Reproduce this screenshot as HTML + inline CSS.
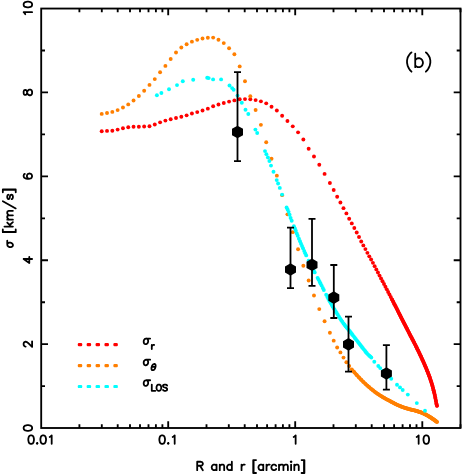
<!DOCTYPE html>
<html><head><meta charset="utf-8"><title>plot</title>
<style>
html,body{margin:0;padding:0;background:#fff;}
body{width:463px;height:475px;position:relative;overflow:hidden;font-family:"Liberation Sans",sans-serif;}
</style></head><body>
<svg width="463" height="475" viewBox="0 0 463 475" style="position:absolute;left:0;top:0;will-change:transform">
<rect x="0" y="0" width="463" height="475" fill="#fff"/>
<polyline points="392.00,299.42 392.40,300.19 392.80,300.97 393.19,301.75 393.59,302.53 393.99,303.31 394.39,304.09 394.79,304.87 395.18,305.65 395.58,306.43 395.98,307.22 396.38,308.00 396.78,308.79 397.17,309.58 397.57,310.36 397.97,311.15 398.37,311.94 398.77,312.73 399.17,313.51 399.56,314.30 399.96,315.09 400.36,315.88 400.76,316.66 401.16,317.44 401.55,318.23 401.95,319.01 402.35,319.79 402.75,320.57 403.15,321.35 403.54,322.12 403.94,322.90 404.34,323.67 404.74,324.45 405.14,325.22 405.53,326.00 405.93,326.77 406.33,327.54 406.73,328.32 407.13,329.09 407.52,329.86 407.92,330.63 408.32,331.41 408.72,332.18 409.12,332.95 409.51,333.73 409.91,334.50 410.31,335.27 410.71,336.04 411.11,336.80 411.51,337.57 411.90,338.33 412.30,339.09 412.70,339.85 413.10,340.62 413.50,341.38 413.89,342.15 414.29,342.92 414.69,343.70 415.09,344.48 415.49,345.26 415.88,346.05 416.28,346.85 416.68,347.65 417.08,348.46 417.48,349.28 417.87,350.09 418.27,350.91 418.67,351.72 419.07,352.55 419.47,353.37 419.86,354.20 420.26,355.04 420.66,355.88 421.06,356.73 421.46,357.58 421.86,358.45 422.25,359.32 422.65,360.19 423.05,361.08 423.45,361.98 423.85,362.88 424.24,363.80 424.64,364.72 425.04,365.64 425.44,366.57 425.84,367.50 426.23,368.44 426.63,369.39 427.03,370.36 427.43,371.34 427.83,372.34 428.22,373.36 428.62,374.40 429.02,375.46 429.42,376.56 429.82,377.68 430.21,378.84 430.61,380.02 431.01,381.23 431.41,382.48 431.81,383.77 432.20,385.10 432.60,386.48 433.00,387.92 433.40,389.42 433.80,390.98 434.20,392.61 434.59,394.37 434.99,396.23 435.39,398.20 435.79,400.25 436.19,402.38 436.58,404.58 436.98,405.80" fill="none" stroke="#ff0000" stroke-width="3.55" stroke-linecap="round" stroke-linejoin="round"/>
<g fill="#ff0000"><circle cx="101.72" cy="131.20" r="1.95"/><circle cx="107.03" cy="130.89" r="1.95"/><circle cx="112.33" cy="130.70" r="1.95"/><circle cx="117.64" cy="129.61" r="1.95"/><circle cx="122.95" cy="128.29" r="1.95"/><circle cx="128.25" cy="127.32" r="1.95"/><circle cx="133.56" cy="126.80" r="1.95"/><circle cx="138.86" cy="126.80" r="1.95"/><circle cx="144.17" cy="126.49" r="1.95"/><circle cx="149.48" cy="126.29" r="1.95"/><circle cx="154.78" cy="124.51" r="1.95"/><circle cx="160.09" cy="122.37" r="1.95"/><circle cx="165.40" cy="120.60" r="1.95"/><circle cx="170.70" cy="119.27" r="1.95"/><circle cx="176.01" cy="117.95" r="1.95"/><circle cx="181.32" cy="116.82" r="1.95"/><circle cx="186.62" cy="115.33" r="1.95"/><circle cx="191.93" cy="113.50" r="1.95"/><circle cx="197.24" cy="112.08" r="1.95"/><circle cx="202.54" cy="110.49" r="1.95"/><circle cx="207.85" cy="108.64" r="1.95"/><circle cx="213.15" cy="106.28" r="1.95"/><circle cx="218.46" cy="104.51" r="1.95"/><circle cx="223.77" cy="102.96" r="1.95"/><circle cx="229.07" cy="101.61" r="1.95"/><circle cx="234.38" cy="100.38" r="1.95"/><circle cx="239.69" cy="99.31" r="1.95"/><circle cx="244.99" cy="99.10" r="1.95"/><circle cx="250.30" cy="99.31" r="1.95"/><circle cx="255.61" cy="100.10" r="1.95"/><circle cx="260.91" cy="101.37" r="1.95"/><circle cx="266.22" cy="103.37" r="1.95"/><circle cx="271.52" cy="106.75" r="1.95"/><circle cx="276.83" cy="110.48" r="1.95"/><circle cx="282.14" cy="115.74" r="1.95"/><circle cx="287.44" cy="121.04" r="1.95"/><circle cx="292.75" cy="126.35" r="1.95"/><circle cx="298.06" cy="132.37" r="1.95"/><circle cx="303.36" cy="139.44" r="1.95"/><circle cx="308.67" cy="148.77" r="1.95"/><circle cx="313.98" cy="156.46" r="1.95"/><circle cx="319.28" cy="164.73" r="1.95"/><circle cx="324.59" cy="173.88" r="1.95"/><circle cx="329.90" cy="183.07" r="1.95"/><circle cx="333.70" cy="190.00" r="1.95"/><circle cx="337.16" cy="196.68" r="1.95"/><circle cx="340.42" cy="202.49" r="1.95"/><circle cx="343.49" cy="208.15" r="1.95"/><circle cx="346.40" cy="213.39" r="1.95"/><circle cx="349.17" cy="218.71" r="1.95"/><circle cx="351.80" cy="223.41" r="1.95"/><circle cx="354.32" cy="228.05" r="1.95"/><circle cx="356.72" cy="232.55" r="1.95"/><circle cx="359.03" cy="237.05" r="1.95"/><circle cx="361.24" cy="241.46" r="1.95"/><circle cx="363.36" cy="245.40" r="1.95"/><circle cx="365.41" cy="249.11" r="1.95"/><circle cx="367.39" cy="252.86" r="1.95"/><circle cx="369.29" cy="256.36" r="1.95"/><circle cx="371.13" cy="259.56" r="1.95"/><circle cx="372.92" cy="262.86" r="1.95"/><circle cx="374.64" cy="266.16" r="1.95"/><circle cx="376.32" cy="269.42" r="1.95"/><circle cx="377.94" cy="272.57" r="1.95"/><circle cx="379.52" cy="275.59" r="1.95"/><circle cx="381.06" cy="278.49" r="1.95"/><circle cx="382.55" cy="281.31" r="1.95"/><circle cx="384.00" cy="284.05" r="1.95"/><circle cx="385.42" cy="286.73" r="1.95"/><circle cx="386.80" cy="289.35" r="1.95"/><circle cx="388.15" cy="291.94" r="1.95"/><circle cx="389.46" cy="294.48" r="1.95"/><circle cx="390.75" cy="296.98" r="1.95"/><circle cx="392.00" cy="299.42" r="1.95"/><circle cx="393.23" cy="301.82" r="1.95"/><circle cx="394.43" cy="304.17" r="1.95"/><circle cx="395.61" cy="306.48" r="1.95"/><circle cx="396.76" cy="308.75" r="1.95"/><circle cx="397.88" cy="310.98" r="1.95"/><circle cx="398.99" cy="313.17" r="1.95"/><circle cx="400.07" cy="315.31" r="1.95"/><circle cx="401.13" cy="317.40" r="1.95"/><circle cx="402.18" cy="319.45" r="1.95"/><circle cx="403.20" cy="321.45" r="1.95"/><circle cx="404.20" cy="323.41" r="1.95"/><circle cx="405.19" cy="325.32" r="1.95"/><circle cx="406.16" cy="327.21" r="1.95"/><circle cx="407.11" cy="329.05" r="1.95"/><circle cx="408.05" cy="330.87" r="1.95"/><circle cx="408.97" cy="332.66" r="1.95"/><circle cx="409.87" cy="334.42" r="1.95"/><circle cx="410.76" cy="336.14" r="1.95"/><circle cx="411.64" cy="337.82" r="1.95"/><circle cx="412.50" cy="339.47" r="1.95"/><circle cx="413.35" cy="341.10" r="1.95"/><circle cx="414.19" cy="342.72" r="1.95"/><circle cx="415.01" cy="344.33" r="1.95"/><circle cx="415.82" cy="345.93" r="1.95"/><circle cx="416.62" cy="347.54" r="1.95"/><circle cx="417.41" cy="349.14" r="1.95"/><circle cx="418.19" cy="350.73" r="1.95"/><circle cx="418.96" cy="352.31" r="1.95"/><circle cx="419.71" cy="353.88" r="1.95"/><circle cx="420.46" cy="355.45" r="1.95"/><circle cx="421.19" cy="357.02" r="1.95"/><circle cx="421.92" cy="358.59" r="1.95"/><circle cx="422.64" cy="360.16" r="1.95"/><circle cx="423.34" cy="361.74" r="1.95"/><circle cx="424.04" cy="363.34" r="1.95"/><circle cx="424.73" cy="364.93" r="1.95"/><circle cx="425.41" cy="366.52" r="1.95"/><circle cx="426.09" cy="368.10" r="1.95"/><circle cx="426.75" cy="369.69" r="1.95"/><circle cx="427.41" cy="371.29" r="1.95"/><circle cx="428.06" cy="372.93" r="1.95"/><circle cx="428.70" cy="374.61" r="1.95"/><circle cx="429.34" cy="376.33" r="1.95"/><circle cx="429.96" cy="378.10" r="1.95"/><circle cx="430.58" cy="379.93" r="1.95"/><circle cx="431.20" cy="381.81" r="1.95"/><circle cx="431.80" cy="383.76" r="1.95"/><circle cx="432.40" cy="385.78" r="1.95"/><circle cx="433.00" cy="387.90" r="1.95"/><circle cx="433.58" cy="390.13" r="1.95"/><circle cx="434.16" cy="392.49" r="1.95"/><circle cx="434.74" cy="395.04" r="1.95"/><circle cx="435.31" cy="397.79" r="1.95"/><circle cx="435.87" cy="400.70" r="1.95"/><circle cx="436.43" cy="403.72" r="1.95"/><circle cx="436.98" cy="405.80" r="1.95"/></g>
<polyline points="353.00,370.77 353.40,371.25 353.80,371.72 354.20,372.18 354.60,372.64 355.00,373.10 355.40,373.55 355.80,374.00 356.20,374.45 356.60,374.89 357.00,375.33 357.40,375.77 357.80,376.20 358.20,376.63 358.60,377.06 359.00,377.48 359.40,377.90 359.80,378.31 360.20,378.73 360.60,379.14 361.00,379.54 361.40,379.95 361.80,380.35 362.20,380.75 362.60,381.15 363.00,381.54 363.40,381.93 363.80,382.32 364.20,382.70 364.60,383.08 365.00,383.46 365.40,383.84 365.80,384.21 366.20,384.57 366.60,384.94 367.00,385.30 367.40,385.66 367.80,386.01 368.20,386.37 368.60,386.72 369.00,387.07 369.40,387.41 369.80,387.75 370.20,388.09 370.60,388.43 371.00,388.76 371.40,389.09 371.80,389.42 372.20,389.74 372.60,390.06 373.00,390.37 373.40,390.69 373.80,391.00 374.20,391.31 374.60,391.61 375.00,391.92 375.40,392.22 375.80,392.52 376.19,392.81 376.59,393.10 376.99,393.39 377.39,393.67 377.79,393.95 378.19,394.23 378.59,394.50 378.99,394.76 379.39,395.02 379.79,395.28 380.19,395.54 380.59,395.79 380.99,396.03 381.39,396.28 381.79,396.52 382.19,396.75 382.59,396.99 382.99,397.22 383.39,397.46 383.79,397.69 384.19,397.92 384.59,398.14 384.99,398.37 385.39,398.60 385.79,398.82 386.19,399.04 386.59,399.26 386.99,399.48 387.39,399.69 387.79,399.91 388.19,400.12 388.59,400.33 388.99,400.54 389.39,400.75 389.79,400.96 390.19,401.17 390.59,401.38 390.99,401.60 391.39,401.81 391.79,402.03 392.19,402.24 392.59,402.46 392.99,402.68 393.39,402.90 393.79,403.12 394.19,403.33 394.59,403.54 394.99,403.75 395.39,403.96 395.79,404.16 396.19,404.35 396.59,404.54 396.99,404.73 397.39,404.91 397.79,405.09 398.19,405.27 398.59,405.44 398.99,405.62 399.39,405.79 399.79,405.96 400.19,406.12 400.59,406.28 400.99,406.44 401.39,406.60 401.79,406.75 402.19,406.90 402.59,407.05 402.99,407.20 403.39,407.34 403.79,407.48 404.19,407.61 404.59,407.75 404.99,407.88 405.39,408.01 405.79,408.14 406.19,408.26 406.59,408.38 406.99,408.51 407.39,408.63 407.79,408.74 408.19,408.86 408.59,408.97 408.99,409.09 409.39,409.20 409.79,409.30 410.19,409.41 410.59,409.51 410.99,409.61 411.39,409.70 411.79,409.79 412.19,409.89 412.59,409.98 412.99,410.07 413.39,410.16 413.79,410.26 414.19,410.35 414.59,410.45 414.99,410.55 415.39,410.66 415.79,410.77 416.19,410.88 416.59,411.00 416.99,411.12 417.39,411.24 417.79,411.36 418.19,411.49 418.59,411.62 418.99,411.75 419.39,411.88 419.79,412.02 420.19,412.16 420.59,412.30 420.99,412.45 421.39,412.60 421.78,412.75 422.18,412.91 422.58,413.08 422.98,413.25 423.38,413.42 423.78,413.61 424.18,413.80 424.58,413.99 424.98,414.19 425.38,414.40 425.78,414.61 426.18,414.82 426.58,415.04 426.98,415.26 427.38,415.48 427.78,415.70 428.18,415.93 428.58,416.17 428.98,416.41 429.38,416.65 429.78,416.91 430.18,417.16 430.58,417.42 430.98,417.68 431.38,417.94 431.78,418.21 432.18,418.48 432.58,418.75 432.98,419.02 433.38,419.30 433.78,419.58 434.18,419.87 434.58,420.16 434.98,420.45 435.38,420.75 435.78,421.05 436.18,421.35 436.58,421.65 436.98,421.90" fill="none" stroke="#ff7f00" stroke-width="3.55" stroke-linecap="round" stroke-linejoin="round"/>
<g fill="#ff7f00"><circle cx="101.72" cy="113.90" r="1.95"/><circle cx="107.03" cy="112.96" r="1.95"/><circle cx="112.33" cy="111.89" r="1.95"/><circle cx="117.64" cy="110.12" r="1.95"/><circle cx="122.95" cy="107.48" r="1.95"/><circle cx="128.25" cy="104.40" r="1.95"/><circle cx="133.56" cy="100.55" r="1.95"/><circle cx="138.86" cy="96.05" r="1.95"/><circle cx="144.17" cy="90.72" r="1.95"/><circle cx="149.48" cy="84.92" r="1.95"/><circle cx="154.78" cy="79.12" r="1.95"/><circle cx="160.09" cy="72.29" r="1.95"/><circle cx="165.40" cy="65.90" r="1.95"/><circle cx="170.70" cy="58.97" r="1.95"/><circle cx="176.01" cy="52.47" r="1.95"/><circle cx="181.32" cy="47.47" r="1.95"/><circle cx="186.62" cy="44.28" r="1.95"/><circle cx="191.93" cy="41.67" r="1.95"/><circle cx="197.24" cy="39.87" r="1.95"/><circle cx="202.54" cy="38.43" r="1.95"/><circle cx="207.85" cy="37.70" r="1.95"/><circle cx="213.15" cy="37.60" r="1.95"/><circle cx="218.46" cy="39.68" r="1.95"/><circle cx="223.77" cy="43.12" r="1.95"/><circle cx="229.07" cy="48.27" r="1.95"/><circle cx="234.38" cy="54.32" r="1.95"/><circle cx="239.69" cy="66.41" r="1.95"/><circle cx="244.99" cy="81.18" r="1.95"/><circle cx="250.30" cy="96.24" r="1.95"/><circle cx="255.61" cy="110.02" r="1.95"/><circle cx="260.91" cy="124.84" r="1.95"/><circle cx="266.22" cy="142.19" r="1.95"/><circle cx="271.52" cy="158.68" r="1.95"/><circle cx="276.83" cy="175.65" r="1.95"/><circle cx="282.14" cy="195.13" r="1.95"/><circle cx="287.44" cy="214.35" r="1.95"/><circle cx="292.75" cy="232.15" r="1.95"/><circle cx="298.06" cy="249.18" r="1.95"/><circle cx="303.36" cy="265.69" r="1.95"/><circle cx="308.67" cy="280.50" r="1.95"/><circle cx="313.98" cy="295.47" r="1.95"/><circle cx="319.28" cy="309.10" r="1.95"/><circle cx="324.59" cy="321.22" r="1.95"/><circle cx="329.90" cy="332.70" r="1.95"/><circle cx="333.70" cy="340.63" r="1.95"/><circle cx="337.16" cy="347.49" r="1.95"/><circle cx="340.42" cy="352.38" r="1.95"/><circle cx="343.49" cy="357.58" r="1.95"/><circle cx="346.40" cy="362.20" r="1.95"/><circle cx="349.17" cy="366.03" r="1.95"/><circle cx="351.80" cy="369.33" r="1.95"/><circle cx="354.32" cy="372.32" r="1.95"/><circle cx="356.72" cy="375.03" r="1.95"/><circle cx="359.03" cy="377.51" r="1.95"/><circle cx="361.24" cy="379.79" r="1.95"/><circle cx="363.36" cy="381.90" r="1.95"/><circle cx="365.41" cy="383.85" r="1.95"/><circle cx="367.39" cy="385.65" r="1.95"/><circle cx="369.29" cy="387.32" r="1.95"/><circle cx="371.13" cy="388.87" r="1.95"/><circle cx="372.92" cy="390.31" r="1.95"/><circle cx="374.64" cy="391.65" r="1.95"/><circle cx="376.32" cy="392.90" r="1.95"/><circle cx="377.94" cy="394.05" r="1.95"/><circle cx="379.52" cy="395.11" r="1.95"/><circle cx="381.06" cy="396.07" r="1.95"/><circle cx="382.55" cy="396.96" r="1.95"/><circle cx="384.00" cy="397.81" r="1.95"/><circle cx="385.42" cy="398.61" r="1.95"/><circle cx="386.80" cy="399.38" r="1.95"/><circle cx="388.15" cy="400.10" r="1.95"/><circle cx="389.46" cy="400.79" r="1.95"/><circle cx="390.75" cy="401.47" r="1.95"/><circle cx="392.00" cy="402.14" r="1.95"/><circle cx="393.23" cy="402.81" r="1.95"/><circle cx="394.43" cy="403.46" r="1.95"/><circle cx="395.61" cy="404.07" r="1.95"/><circle cx="396.76" cy="404.62" r="1.95"/><circle cx="397.88" cy="405.13" r="1.95"/><circle cx="398.99" cy="405.62" r="1.95"/><circle cx="400.07" cy="406.07" r="1.95"/><circle cx="401.13" cy="406.50" r="1.95"/><circle cx="402.18" cy="406.90" r="1.95"/><circle cx="403.20" cy="407.27" r="1.95"/><circle cx="404.20" cy="407.62" r="1.95"/><circle cx="405.19" cy="407.94" r="1.95"/><circle cx="406.16" cy="408.25" r="1.95"/><circle cx="407.11" cy="408.54" r="1.95"/><circle cx="408.05" cy="408.82" r="1.95"/><circle cx="408.97" cy="409.08" r="1.95"/><circle cx="409.87" cy="409.33" r="1.95"/><circle cx="410.76" cy="409.55" r="1.95"/><circle cx="411.64" cy="409.76" r="1.95"/><circle cx="412.50" cy="409.96" r="1.95"/><circle cx="413.35" cy="410.15" r="1.95"/><circle cx="414.19" cy="410.35" r="1.95"/><circle cx="415.01" cy="410.56" r="1.95"/><circle cx="415.82" cy="410.78" r="1.95"/><circle cx="416.62" cy="411.01" r="1.95"/><circle cx="417.41" cy="411.25" r="1.95"/><circle cx="418.19" cy="411.49" r="1.95"/><circle cx="418.96" cy="411.74" r="1.95"/><circle cx="419.71" cy="411.99" r="1.95"/><circle cx="420.46" cy="412.26" r="1.95"/><circle cx="421.19" cy="412.53" r="1.95"/><circle cx="421.92" cy="412.81" r="1.95"/><circle cx="422.64" cy="413.10" r="1.95"/><circle cx="423.34" cy="413.40" r="1.95"/><circle cx="424.04" cy="413.73" r="1.95"/><circle cx="424.73" cy="414.07" r="1.95"/><circle cx="425.41" cy="414.41" r="1.95"/><circle cx="426.09" cy="414.77" r="1.95"/><circle cx="426.75" cy="415.13" r="1.95"/><circle cx="427.41" cy="415.49" r="1.95"/><circle cx="428.06" cy="415.86" r="1.95"/><circle cx="428.70" cy="416.24" r="1.95"/><circle cx="429.34" cy="416.63" r="1.95"/><circle cx="429.96" cy="417.02" r="1.95"/><circle cx="430.58" cy="417.42" r="1.95"/><circle cx="431.20" cy="417.82" r="1.95"/><circle cx="431.80" cy="418.23" r="1.95"/><circle cx="432.40" cy="418.63" r="1.95"/><circle cx="433.00" cy="419.03" r="1.95"/><circle cx="433.58" cy="419.44" r="1.95"/><circle cx="434.16" cy="419.86" r="1.95"/><circle cx="434.74" cy="420.27" r="1.95"/><circle cx="435.31" cy="420.69" r="1.95"/><circle cx="435.87" cy="421.11" r="1.95"/><circle cx="436.43" cy="421.54" r="1.95"/><circle cx="436.98" cy="421.90" r="1.95"/></g>
<g fill="#00ffff"><circle cx="156.90" cy="95.20" r="1.95"/><circle cx="161.40" cy="93.00" r="1.95"/><circle cx="169.00" cy="89.20" r="1.95"/><circle cx="177.00" cy="85.10" r="1.95"/><circle cx="182.80" cy="81.20" r="1.95"/><circle cx="193.20" cy="79.80" r="1.95"/><circle cx="207.20" cy="77.70" r="1.95"/><circle cx="208.70" cy="78.10" r="1.95"/><circle cx="213.10" cy="79.40" r="1.95"/><circle cx="221.10" cy="79.40" r="1.95"/><circle cx="229.50" cy="85.50" r="1.95"/><circle cx="232.10" cy="88.10" r="1.95"/><circle cx="233.60" cy="89.80" r="1.95"/><circle cx="237.50" cy="95.60" r="1.95"/><circle cx="241.80" cy="102.80" r="1.95"/><circle cx="245.50" cy="109.70" r="1.95"/><circle cx="248.30" cy="114.00" r="1.95"/><circle cx="255.40" cy="129.60" r="1.95"/><circle cx="257.20" cy="133.00" r="1.95"/><circle cx="265.00" cy="151.10" r="1.95"/><circle cx="266.40" cy="154.17" r="1.95"/><circle cx="267.90" cy="157.42" r="1.95"/><circle cx="269.40" cy="161.00" r="1.95"/><circle cx="271.00" cy="165.60" r="1.95"/><circle cx="273.50" cy="171.80" r="1.95"/><circle cx="276.70" cy="180.10" r="1.95"/><circle cx="278.10" cy="183.57" r="1.95"/><circle cx="279.80" cy="187.90" r="1.95"/><circle cx="282.10" cy="194.60" r="1.95"/><circle cx="286.60" cy="207.53" r="1.95"/><circle cx="287.60" cy="209.52" r="1.95"/><circle cx="288.60" cy="211.84" r="1.95"/><circle cx="289.60" cy="214.81" r="1.95"/><circle cx="290.60" cy="218.03" r="1.95"/><circle cx="291.70" cy="220.69" r="1.95"/><circle cx="293.90" cy="226.14" r="1.95"/><circle cx="294.90" cy="228.50" r="1.95"/><circle cx="295.80" cy="230.71" r="1.95"/><circle cx="296.80" cy="233.42" r="1.95"/><circle cx="297.70" cy="235.75" r="1.95"/><circle cx="298.90" cy="238.69" r="1.95"/><circle cx="300.00" cy="241.31" r="1.95"/><circle cx="301.00" cy="243.64" r="1.95"/><circle cx="302.00" cy="245.93" r="1.95"/><circle cx="303.00" cy="248.19" r="1.95"/><circle cx="304.20" cy="250.89" r="1.95"/><circle cx="305.20" cy="253.14" r="1.95"/><circle cx="306.20" cy="255.41" r="1.95"/><circle cx="308.60" cy="260.72" r="1.95"/><circle cx="309.60" cy="262.74" r="1.95"/><circle cx="310.60" cy="264.69" r="1.95"/><circle cx="311.60" cy="266.59" r="1.95"/><circle cx="312.60" cy="268.46" r="1.95"/><circle cx="313.80" cy="270.70" r="1.95"/><circle cx="314.70" cy="272.40" r="1.95"/><circle cx="317.60" cy="277.86" r="1.95"/><circle cx="318.50" cy="279.58" r="1.95"/><circle cx="319.60" cy="281.70" r="1.95"/><circle cx="320.50" cy="283.45" r="1.95"/><circle cx="321.60" cy="285.61" r="1.95"/><circle cx="322.80" cy="288.00" r="1.95"/><circle cx="323.80" cy="290.03" r="1.95"/><circle cx="326.20" cy="294.80" r="1.95"/><circle cx="327.40" cy="297.07" r="1.95"/><circle cx="328.40" cy="298.94" r="1.95"/><circle cx="329.60" cy="301.14" r="1.95"/><circle cx="330.60" cy="302.93" r="1.95"/><circle cx="331.70" cy="304.87" r="1.95"/><circle cx="332.60" cy="306.41" r="1.95"/><circle cx="333.50" cy="307.92" r="1.95"/><circle cx="334.50" cy="309.56" r="1.95"/><circle cx="335.70" cy="311.48" r="1.95"/><circle cx="336.70" cy="313.06" r="1.95"/><circle cx="337.80" cy="314.79" r="1.95"/><circle cx="339.00" cy="316.67" r="1.95"/><circle cx="340.10" cy="318.40" r="1.95"/><circle cx="341.30" cy="320.25" r="1.95"/><circle cx="342.30" cy="321.75" r="1.95"/><circle cx="343.50" cy="323.46" r="1.95"/><circle cx="344.50" cy="324.80" r="1.95"/><circle cx="345.60" cy="326.21" r="1.95"/><circle cx="346.60" cy="327.43" r="1.95"/><circle cx="347.60" cy="328.64" r="1.95"/><circle cx="348.80" cy="330.08" r="1.95"/><circle cx="349.80" cy="331.30" r="1.95"/><circle cx="350.80" cy="332.55" r="1.95"/><circle cx="351.90" cy="333.97" r="1.95"/><circle cx="352.80" cy="335.14" r="1.95"/><circle cx="353.90" cy="336.58" r="1.95"/><circle cx="354.90" cy="337.89" r="1.95"/><circle cx="355.90" cy="339.19" r="1.95"/><circle cx="357.00" cy="340.62" r="1.95"/><circle cx="358.00" cy="341.91" r="1.95"/><circle cx="359.00" cy="343.20" r="1.95"/><circle cx="360.00" cy="344.48" r="1.95"/><circle cx="360.90" cy="345.64" r="1.95"/><circle cx="361.90" cy="346.91" r="1.95"/><circle cx="362.90" cy="348.18" r="1.95"/><circle cx="364.00" cy="349.62" r="1.95"/><circle cx="365.10" cy="351.07" r="1.95"/><circle cx="366.00" cy="352.22" r="1.95"/><circle cx="366.90" cy="353.31" r="1.95"/><circle cx="368.10" cy="354.60" r="1.95"/><circle cx="369.30" cy="355.65" r="1.95"/><circle cx="370.20" cy="356.42" r="1.95"/><circle cx="371.30" cy="357.53" r="1.95"/><circle cx="374.30" cy="361.70" r="1.95"/><circle cx="378.30" cy="365.98" r="1.95"/><circle cx="380.20" cy="368.10" r="1.95"/><circle cx="383.00" cy="370.92" r="1.95"/><circle cx="391.20" cy="378.70" r="1.95"/><circle cx="397.00" cy="384.70" r="1.95"/><circle cx="400.00" cy="387.40" r="1.95"/><circle cx="402.70" cy="390.00" r="1.95"/><circle cx="407.80" cy="394.60" r="1.95"/><circle cx="416.80" cy="403.10" r="1.95"/><circle cx="425.00" cy="410.70" r="1.95"/></g>
<g fill="#ff0000"><rect x="77.75" y="342.96" width="4.5" height="3.2" rx="1.2" /><rect x="86.65" y="342.96" width="4.5" height="3.2" rx="1.2" /><rect x="95.55" y="342.96" width="4.5" height="3.2" rx="1.2" /><rect x="104.45" y="342.96" width="4.5" height="3.2" rx="1.2" /><rect x="113.35" y="342.96" width="4.5" height="3.2" rx="1.2" /></g>
<g fill="#ff7f00"><rect x="77.75" y="363.93" width="4.5" height="3.2" rx="1.2" /><rect x="86.65" y="363.93" width="4.5" height="3.2" rx="1.2" /><rect x="95.55" y="363.93" width="4.5" height="3.2" rx="1.2" /><rect x="104.45" y="363.93" width="4.5" height="3.2" rx="1.2" /><rect x="113.35" y="363.93" width="4.5" height="3.2" rx="1.2" /></g>
<g fill="#00ffff"><rect x="77.75" y="384.90" width="4.5" height="3.2" rx="1.2" /><rect x="86.65" y="384.90" width="4.5" height="3.2" rx="1.2" /><rect x="95.55" y="384.90" width="4.5" height="3.2" rx="1.2" /><rect x="104.45" y="384.90" width="4.5" height="3.2" rx="1.2" /><rect x="113.35" y="384.90" width="4.5" height="3.2" rx="1.2" /></g>
<rect x="41.2" y="8.55" width="419.3" height="419.45" fill="none" stroke="#000" stroke-width="1.85"/>
<path d="M79.4 428.0 v-3.8 M79.4 8.55 v3.8 M101.8 428.0 v-3.8 M101.8 8.55 v3.8 M117.7 428.0 v-3.8 M117.7 8.55 v3.8 M130.0 428.0 v-3.8 M130.0 8.55 v3.8 M140.0 428.0 v-3.8 M140.0 8.55 v3.8 M148.5 428.0 v-3.8 M148.5 8.55 v3.8 M155.9 428.0 v-3.8 M155.9 8.55 v3.8 M162.4 428.0 v-3.8 M162.4 8.55 v3.8 M168.2 428.0 v-6.8 M168.2 8.55 v6.8 M206.5 428.0 v-3.8 M206.5 8.55 v3.8 M228.8 428.0 v-3.8 M228.8 8.55 v3.8 M244.7 428.0 v-3.8 M244.7 8.55 v3.8 M257.0 428.0 v-3.8 M257.0 8.55 v3.8 M267.1 428.0 v-3.8 M267.1 8.55 v3.8 M275.6 428.0 v-3.8 M275.6 8.55 v3.8 M282.9 428.0 v-3.8 M282.9 8.55 v3.8 M289.4 428.0 v-3.8 M289.4 8.55 v3.8 M295.2 428.0 v-6.8 M295.2 8.55 v6.8 M333.5 428.0 v-3.8 M333.5 8.55 v3.8 M355.8 428.0 v-3.8 M355.8 8.55 v3.8 M371.7 428.0 v-3.8 M371.7 8.55 v3.8 M384.0 428.0 v-3.8 M384.0 8.55 v3.8 M394.1 428.0 v-3.8 M394.1 8.55 v3.8 M402.6 428.0 v-3.8 M402.6 8.55 v3.8 M410.0 428.0 v-3.8 M410.0 8.55 v3.8 M416.5 428.0 v-3.8 M416.5 8.55 v3.8 M422.3 428.0 v-6.8 M422.3 8.55 v6.8 M460.5 428.0 v-3.8 M460.5 8.55 v3.8 M41.2 386.1 h3.8 M460.5 386.1 h-3.8 M41.2 344.1 h6.8 M460.5 344.1 h-6.8 M41.2 302.2 h3.8 M460.5 302.2 h-3.8 M41.2 260.2 h6.8 M460.5 260.2 h-6.8 M41.2 218.3 h3.8 M460.5 218.3 h-3.8 M41.2 176.3 h6.8 M460.5 176.3 h-6.8 M41.2 134.4 h3.8 M460.5 134.4 h-3.8 M41.2 92.4 h6.8 M460.5 92.4 h-6.8 M41.2 50.5 h3.8 M460.5 50.5 h-3.8" stroke="#000" stroke-width="1.85" fill="none"/>
<path d="M237.5 72.1 V161.1 M234.0 72.1 h7 M234.0 161.1 h7 M290.5 227.7 V288.1 M287.0 227.7 h7 M287.0 288.1 h7 M312 218.9 V285.8 M308.5 218.9 h7 M308.5 285.8 h7 M333.8 265 V318 M330.3 265 h7 M330.3 318 h7 M348.5 316.6 V371.6 M345.0 316.6 h7 M345.0 371.6 h7 M386.4 345.2 V389.7 M382.9 345.2 h7 M382.9 389.7 h7" stroke="#000" stroke-width="1.8" fill="none"/>
<g fill="#000"><polygon points="237.5,125.7 243.0,128.8 243.0,135.2 237.5,138.3 232.0,135.2 232.0,128.8"/><polygon points="290.5,263.2 296.0,266.4 296.0,272.6 290.5,275.8 285.0,272.6 285.0,266.4"/><polygon points="312.0,258.5 317.5,261.7 317.5,267.9 312.0,271.1 306.5,267.9 306.5,261.7"/><polygon points="333.8,291.3 339.3,294.5 339.3,300.8 333.8,303.9 328.3,300.8 328.3,294.5"/><polygon points="348.5,338.1 354.0,341.2 354.0,347.5 348.5,350.7 343.0,347.5 343.0,341.2"/><polygon points="386.4,367.2 391.9,370.4 391.9,376.6 386.4,379.8 380.9,376.6 380.9,370.4"/></g>
<path d="M30.72 435.34L29.51 435.74L28.71 436.95L28.30 438.96L28.30 440.17L28.71 442.19L29.51 443.40L30.72 443.80L31.53 443.80L32.74 443.40L33.54 442.19L33.95 440.17L33.95 438.96L33.54 436.95L32.74 435.74L31.53 435.34L30.72 435.34M37.17 442.99L36.77 443.40L37.17 443.80L37.57 443.40L37.17 442.99M42.81 435.34L41.60 435.74L40.80 436.95L40.39 438.96L40.39 440.17L40.80 442.19L41.60 443.40L42.81 443.80L43.62 443.80L44.83 443.40L45.63 442.19L46.04 440.17L46.04 438.96L45.63 436.95L44.83 435.74L43.62 435.34L42.81 435.34M49.66 436.95L50.47 436.55L51.68 435.34L51.68 443.80M161.77 435.34L160.56 435.74L159.76 436.95L159.35 438.96L159.35 440.17L159.76 442.19L160.56 443.40L161.77 443.80L162.58 443.80L163.79 443.40L164.59 442.19L165.00 440.17L165.00 438.96L164.59 436.95L163.79 435.74L162.58 435.34L161.77 435.34M168.22 442.99L167.82 443.40L168.22 443.80L168.62 443.40L168.22 442.99M172.65 436.95L173.46 436.55L174.67 435.34L174.67 443.80M293.63 436.95L294.44 436.55L295.64 435.34L295.64 443.80M416.62 436.95L417.43 436.55L418.64 435.34L418.64 443.80M425.89 435.34L424.68 435.74L423.87 436.95L423.47 438.96L423.47 440.17L423.87 442.19L424.68 443.40L425.89 443.80L426.70 443.80L427.90 443.40L428.71 442.19L429.11 440.17L429.11 438.96L428.71 436.95L427.90 435.74L426.70 435.34L425.89 435.34M23.64 428.40L24.04 429.61L25.25 430.42L27.26 430.82L28.47 430.82L30.49 430.42L31.70 429.61L32.10 428.40L32.10 427.60L31.70 426.39L30.49 425.58L28.47 425.18L27.26 425.18L25.25 425.58L24.04 426.39L23.64 427.60L23.64 428.40M25.65 346.53L25.25 346.53L24.44 346.12L24.04 345.72L23.64 344.92L23.64 343.30L24.04 342.50L24.44 342.10L25.25 341.69L26.05 341.69L26.86 342.10L28.07 342.90L32.10 346.93L32.10 341.29M23.64 259.01L29.28 263.04L29.28 257.00M23.64 259.01L32.10 259.01M24.85 173.91L24.04 174.31L23.64 175.52L23.64 176.33L24.04 177.54L25.25 178.34L27.26 178.75L29.28 178.75L30.89 178.34L31.70 177.54L32.10 176.33L32.10 175.93L31.70 174.72L30.89 173.91L29.68 173.51L29.28 173.51L28.07 173.91L27.26 174.72L26.86 175.93L26.86 176.33L27.26 177.54L28.07 178.34L29.28 178.75M23.64 93.25L24.04 94.45L24.85 94.86L25.65 94.86L26.46 94.45L26.86 93.65L27.26 92.04L27.67 90.83L28.47 90.02L29.28 89.62L30.49 89.62L31.29 90.02L31.70 90.42L32.10 91.63L32.10 93.25L31.70 94.45L31.29 94.86L30.49 95.26L29.28 95.26L28.47 94.86L27.67 94.05L27.26 92.84L26.86 91.23L26.46 90.42L25.65 90.02L24.85 90.02L24.04 90.42L23.64 91.63L23.64 93.25M25.25 14.19L24.85 13.39L23.64 12.18L32.10 12.18M23.64 4.92L24.04 6.13L25.25 6.94L27.26 7.34L28.47 7.34L30.49 6.94L31.70 6.13L32.10 4.92L32.10 4.12L31.70 2.91L30.49 2.10L28.47 1.70L27.26 1.70L25.25 2.10L24.04 2.91L23.64 4.12L23.64 4.92M197.20 461.74L197.20 470.20M197.20 461.74L200.83 461.74L202.04 462.14L202.44 462.54L202.84 463.35L202.84 464.15L202.44 464.96L202.04 465.36L200.83 465.77L197.20 465.77M200.02 465.77L202.84 470.20M216.55 464.56L216.55 470.20M216.55 465.77L215.74 464.96L214.93 464.56L213.72 464.56L212.92 464.96L212.11 465.77L211.71 466.98L211.71 467.78L212.11 468.99L212.92 469.80L213.72 470.20L214.93 470.20L215.74 469.80L216.55 468.99M219.77 464.56L219.77 470.20M219.77 466.17L220.98 464.96L221.78 464.56L222.99 464.56L223.80 464.96L224.20 466.17L224.20 470.20M231.86 461.74L231.86 470.20M231.86 465.77L231.05 464.96L230.25 464.56L229.04 464.56L228.23 464.96L227.43 465.77L227.02 466.98L227.02 467.78L227.43 468.99L228.23 469.80L229.04 470.20L230.25 470.20L231.05 469.80L231.86 468.99M241.53 464.56L241.53 470.20M241.53 466.98L241.93 465.77L242.74 464.96L243.55 464.56L244.76 464.56M253.22 460.12L253.22 473.02M253.62 460.12L253.62 473.02M253.22 460.12L256.04 460.12M253.22 473.02L256.04 473.02M263.29 464.56L263.29 470.20M263.29 465.77L262.49 464.96L261.68 464.56L260.47 464.56L259.67 464.96L258.86 465.77L258.46 466.98L258.46 467.78L258.86 468.99L259.67 469.80L260.47 470.20L261.68 470.20L262.49 469.80L263.29 468.99M266.52 464.56L266.52 470.20M266.52 466.98L266.92 465.77L267.73 464.96L268.53 464.56L269.74 464.56M276.19 465.77L275.38 464.96L274.58 464.56L273.37 464.56L272.56 464.96L271.76 465.77L271.35 466.98L271.35 467.78L271.76 468.99L272.56 469.80L273.37 470.20L274.58 470.20L275.38 469.80L276.19 468.99M279.01 464.56L279.01 470.20M279.01 466.17L280.22 464.96L281.03 464.56L282.23 464.56L283.04 464.96L283.44 466.17L283.44 470.20M283.44 466.17L284.65 464.96L285.46 464.56L286.67 464.56L287.47 464.96L287.88 466.17L287.88 470.20M290.70 461.74L291.10 462.14L291.50 461.74L291.10 461.33L290.70 461.74M291.10 464.56L291.10 470.20M294.32 464.56L294.32 470.20M294.32 466.17L295.53 464.96L296.34 464.56L297.55 464.56L298.35 464.96L298.76 466.17L298.76 470.20M304.00 460.12L304.00 473.02M304.40 460.12L304.40 473.02M301.58 460.12L304.40 460.12M301.58 473.02L304.40 473.02M7.26 244.70L7.66 245.91L8.47 246.71L9.68 247.11L10.88 247.11L12.09 246.71L12.50 246.31L12.90 245.50L12.90 244.70L12.50 243.89L11.69 243.08L10.48 242.68L9.27 242.68L8.06 243.08L7.66 243.49L7.26 244.29M7.26 244.70L7.26 240.67M2.82 232.20L15.72 232.20M2.82 231.80L15.72 231.80M2.82 232.20L2.82 229.38M15.72 232.20L15.72 229.38M4.44 226.56L12.90 226.56M7.26 222.53L11.29 226.56M9.68 224.95L12.90 222.13M7.26 219.71L12.90 219.71M8.87 219.71L7.66 218.50L7.26 217.70L7.26 216.49L7.66 215.68L8.87 215.28L12.90 215.28M8.87 215.28L7.66 214.07L7.26 213.26L7.26 212.05L7.66 211.25L8.87 210.84L12.90 210.84M2.83 201.17L15.72 208.43M8.47 194.72L7.66 195.13L7.26 196.34L7.26 197.55L7.66 198.75L8.47 199.16L9.27 198.75L9.68 197.95L10.08 195.93L10.48 195.13L11.29 194.72L11.69 194.72L12.50 195.13L12.90 196.34L12.90 197.55L12.50 198.75L11.69 199.16M2.83 189.89L15.72 189.89M2.83 189.49L15.72 189.49M2.83 192.31L2.83 189.49M15.72 192.31L15.72 189.49M411.51 52.35L410.23 53.50L408.95 55.23L407.67 57.47L407.03 60.35L407.03 62.72L407.67 65.92L408.95 68.48L410.23 70.40L411.51 71.68M415.22 53.76L415.22 67.20M415.22 60.16L416.50 58.88L417.78 58.24L419.70 58.24L420.98 58.88L422.26 60.16L422.90 62.08L422.90 63.36L422.26 65.28L420.98 66.56L419.70 67.20L417.78 67.20L416.50 66.56L415.22 65.28M425.84 52.35L427.12 53.50L428.40 55.23L429.68 57.47L430.32 60.35L430.32 62.72L429.68 65.92L428.40 68.48L427.12 70.40L425.84 71.68M146.13 338.56L144.92 338.96L144.11 339.77L143.71 340.98L143.71 342.19L144.11 343.39L144.52 343.80L145.32 344.20L146.13 344.20L146.94 343.80L147.74 342.99L148.14 341.78L148.14 340.57L147.74 339.36L147.34 338.96L146.53 338.56M146.13 338.56L150.16 338.56M151.78 344.97L151.78 349.10M151.78 346.74L152.07 345.85L152.66 345.26L153.25 344.97L154.14 344.97M146.13 359.66L144.92 360.06L144.11 360.87L143.71 362.08L143.71 363.29L144.11 364.49L144.52 364.90L145.32 365.30L146.13 365.30L146.94 364.90L147.74 364.09L148.14 362.88L148.14 361.67L147.74 360.46L147.34 360.06L146.53 359.66M146.13 359.66L150.16 359.66M154.14 364.00L153.25 364.30L152.66 364.89L152.07 365.77L151.78 366.66L151.48 367.84L151.48 369.02L151.78 369.90L152.37 370.20L152.96 370.20L153.84 369.90L154.44 369.31L155.03 368.43L155.32 367.55L155.61 366.37L155.61 365.19L155.32 364.30L154.73 364.00L154.14 364.00M151.78 366.95L155.32 366.95M146.13 380.26L144.92 380.66L144.11 381.47L143.71 382.68L143.71 383.88L144.11 385.09L144.52 385.50L145.32 385.90L146.13 385.90L146.94 385.50L147.74 384.69L148.14 383.48L148.14 382.27L147.74 381.06L147.34 380.66L146.53 380.26M146.13 380.26L150.16 380.26M151.78 384.60L151.78 390.80M151.78 390.80L155.32 390.80M158.27 384.60L157.68 384.90L157.09 385.49L156.79 386.08L156.50 386.96L156.50 388.44L156.79 389.32L157.09 389.91L157.68 390.50L158.27 390.80L159.45 390.80L160.04 390.50L160.63 389.91L160.92 389.32L161.22 388.44L161.22 386.96L160.92 386.08L160.63 385.49L160.04 384.90L159.45 384.60L158.27 384.60M167.12 385.49L166.53 384.90L165.64 384.60L164.47 384.60L163.58 384.90L162.99 385.49L162.99 386.08L163.28 386.67L163.58 386.96L164.17 387.26L165.94 387.85L166.53 388.14L166.82 388.44L167.12 389.03L167.12 389.91L166.53 390.50L165.64 390.80L164.47 390.80L163.58 390.50L162.99 389.91" fill="none" stroke="#000" stroke-width="1.8" stroke-linecap="round" stroke-linejoin="round"/>
</svg>
</body></html>
